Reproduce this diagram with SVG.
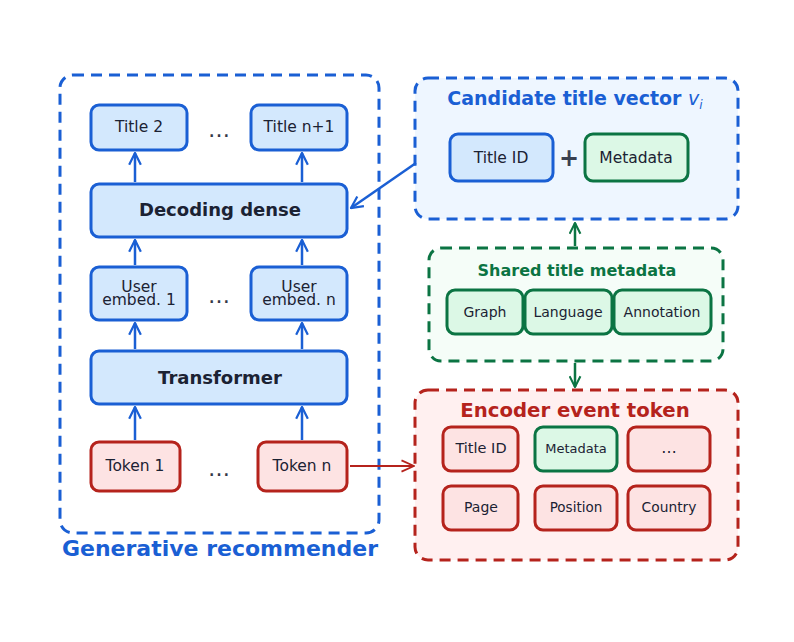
<svg xmlns="http://www.w3.org/2000/svg" width="794" height="642" viewBox="0 0 794 642">
<defs>
<marker id="ab" viewBox="0 0 12 12" refX="11" refY="6" markerWidth="14" markerHeight="14" markerUnits="userSpaceOnUse" orient="auto"><path d="M1,1 L11,6 L1,11" fill="none" stroke="#1a5fd4" stroke-width="1.9"/></marker>
<marker id="ar" viewBox="0 0 12 12" refX="11" refY="6" markerWidth="15" markerHeight="15" markerUnits="userSpaceOnUse" orient="auto"><path d="M1,1.5 L11,6 L1,10.5" fill="none" stroke="#b5231c" stroke-width="1.4"/></marker>
<marker id="ag" viewBox="0 0 12 12" refX="11" refY="6" markerWidth="13" markerHeight="13" markerUnits="userSpaceOnUse" orient="auto"><path d="M1,1 L11,6 L1,11" fill="none" stroke="#0b7443" stroke-width="1.9"/></marker>
</defs>
<style>
text{font-family:"DejaVu Sans","Liberation Sans",sans-serif;fill:#1b2233;text-anchor:middle}
.bn{fill:#d3e8fd;stroke:#1a5fd4;stroke-width:3}
.rn{fill:#fde3e3;stroke:#b5231c;stroke-width:3}
.gn{fill:#dcf8e6;stroke:#0b7443;stroke-width:3}
.t15{font-size:15.5px}
.t14{font-size:14px}
.b18{font-size:18px;font-weight:bold}
.dots{font-size:22px;fill:#333a48}
.cb{stroke:#1a5fd4;stroke-width:2.5;fill:none}
.cr{stroke:#b5231c;stroke-width:2;fill:none}
.cg{stroke:#0b7443;stroke-width:2.5;fill:none}
</style>
<rect width="794" height="642" fill="#fff"/>
<g id="generative-recommender">
<rect x="60" y="75" width="319" height="458" rx="13" fill="none" stroke="#1a5fd4" stroke-width="3" stroke-dasharray="11,7"/>
<text x="220" y="556" style="font-size:22px;font-weight:bold;fill:#1a5fd4">Generative recommender</text>
</g>
<g id="title2"><rect class="bn" x="91" y="105" width="96" height="45" rx="8"/><text class="t15" x="139" y="132">Title 2</text></g>
<g id="dots1"><text class="dots" x="219" y="137">…</text></g>
<g id="titlen1"><rect class="bn" x="251" y="105" width="96" height="45" rx="8"/><text class="t15" x="299" y="132">Title n+1</text></g>
<g id="decoding"><rect class="bn" x="91" y="184" width="256" height="53" rx="8"/><text class="b18" x="220" y="216">Decoding dense</text></g>
<g id="user1"><rect class="bn" x="91" y="267" width="96" height="53" rx="8"/><text class="t15" x="139" y="292">User</text><text class="t15" x="139" y="305">embed. 1</text></g>
<g id="dots2"><text class="dots" x="219" y="303">…</text></g>
<g id="usern"><rect class="bn" x="251" y="267" width="96" height="53" rx="8"/><text class="t15" x="299" y="292">User</text><text class="t15" x="299" y="305">embed. n</text></g>
<g id="transformer"><rect class="bn" x="91" y="351" width="256" height="53" rx="8"/><text class="b18" x="220" y="384">Transformer</text></g>
<g id="token1"><rect class="rn" x="91" y="442" width="89" height="49" rx="8"/><text class="t15" x="135" y="471">Token 1</text></g>
<g id="dots3"><text class="dots" x="219" y="476">…</text></g>
<g id="tokenn"><rect class="rn" x="258" y="442" width="89" height="49" rx="8"/><text class="t15" x="302" y="471">Token n</text></g>

<g id="candidate">
<rect x="415" y="78" width="323" height="141" rx="13" fill="#eef6ff" stroke="#1a5fd4" stroke-width="3" stroke-dasharray="11,7"/>
<text x="575" y="105" style="font-size:19px;font-weight:bold;fill:#1a5fd4">Candidate title vector <tspan style="font-style:italic;font-weight:normal">v<tspan style="font-size:12px" dy="4">i</tspan></tspan></text>
</g>
<g id="cand-titleid"><rect class="bn" x="450" y="134" width="103" height="47" rx="8"/><text class="t15" x="501" y="163">Title ID</text></g>
<g id="plus"><text x="569" y="166" style="font-size:24px;font-weight:bold;fill:#394050">+</text></g>
<g id="cand-meta"><rect class="gn" x="585" y="134" width="103" height="47" rx="8"/><text class="t15" x="636" y="163">Metadata</text></g>

<g id="shared">
<rect x="429" y="248" width="294" height="113" rx="12" fill="#f5fdf8" stroke="#0b7443" stroke-width="3" stroke-dasharray="11,7"/>
<text x="577" y="276" style="font-size:16px;font-weight:bold;fill:#0b7443">Shared title metadata</text>
</g>
<g id="graph"><rect class="gn" x="447" y="290" width="76" height="44" rx="8"/><text class="t14" x="485" y="317">Graph</text></g>
<g id="language"><rect class="gn" x="525" y="290" width="87" height="44" rx="8"/><text class="t14" x="568" y="317">Language</text></g>
<g id="annotation"><rect class="gn" x="614" y="290" width="97" height="44" rx="8"/><text class="t14" x="662" y="317">Annotation</text></g>

<g id="encoder">
<rect x="415" y="390" width="323" height="170" rx="13" fill="#fff0f0" stroke="#b5231c" stroke-width="3" stroke-dasharray="11,7"/>
<text x="575" y="417" style="font-size:19.7px;font-weight:bold;fill:#b5231c">Encoder event token</text>
</g>
<g id="enc-titleid"><rect class="rn" x="443" y="427" width="75" height="44" rx="8"/><text style="font-size:14.5px" x="481" y="453">Title ID</text></g>
<g id="enc-meta"><rect class="gn" x="535" y="427" width="82" height="44" rx="8"/><text style="font-size:13px" x="576" y="453">Metadata</text></g>
<g id="enc-dots"><rect class="rn" x="628" y="427" width="82" height="44" rx="8"/><text class="t15" x="669" y="453">…</text></g>
<g id="enc-page"><rect class="rn" x="443" y="486" width="75" height="44" rx="8"/><text class="t14" x="481" y="512">Page</text></g>
<g id="enc-position"><rect class="rn" x="535" y="486" width="82" height="44" rx="8"/><text style="font-size:13.5px" x="576" y="512">Position</text></g>
<g id="enc-country"><rect class="rn" x="628" y="486" width="82" height="44" rx="8"/><text style="font-size:13.8px" x="669" y="512">Country</text></g>

<g id="connectors">
<line class="cb" x1="135" y1="182" x2="135" y2="153" marker-end="url(#ab)"/>
<line class="cb" x1="302" y1="182" x2="302" y2="153" marker-end="url(#ab)"/>
<line class="cb" x1="135" y1="265" x2="135" y2="240" marker-end="url(#ab)"/>
<line class="cb" x1="302" y1="265" x2="302" y2="240" marker-end="url(#ab)"/>
<line class="cb" x1="135" y1="349" x2="135" y2="323" marker-end="url(#ab)"/>
<line class="cb" x1="302" y1="349" x2="302" y2="323" marker-end="url(#ab)"/>
<line class="cb" x1="135" y1="440" x2="135" y2="407" marker-end="url(#ab)"/>
<line class="cb" x1="302" y1="440" x2="302" y2="407" marker-end="url(#ab)"/>
<line class="cb" x1="416" y1="163" x2="351" y2="208" marker-end="url(#ab)"/>
<line class="cr" x1="350" y1="466" x2="414" y2="466" marker-end="url(#ar)"/>
<line class="cg" x1="575" y1="246" x2="575" y2="223" marker-end="url(#ag)"/>
<line class="cg" x1="575" y1="363" x2="575" y2="387" marker-end="url(#ag)"/>
</g>
</svg>
